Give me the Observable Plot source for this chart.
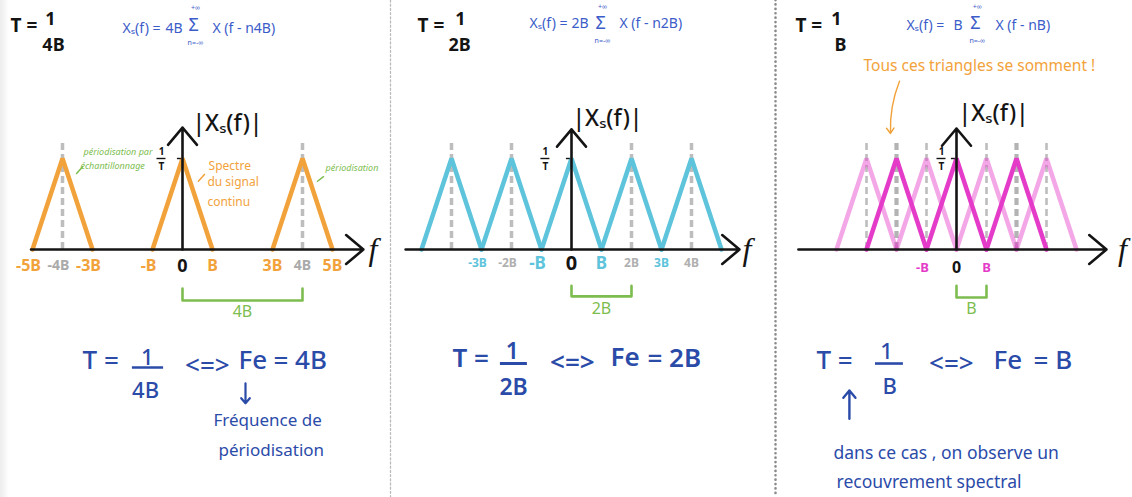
<!DOCTYPE html>
<html>
<head>
<meta charset="utf-8">
<script src="https://cdn.jsdelivr.net/npm/d3@7"></script>
<script src="https://cdn.jsdelivr.net/npm/@observablehq/plot@0.6"></script>
<style>
  body { margin: 0; background: #fff; }
  #page {
    position: relative; width: 1132px; height: 497px; overflow: hidden;
    background: linear-gradient(to right, #ececec 0, #f6f6f6 5px, #fff 9px);
  }
  #page svg { position: absolute; top: 0; }
</style>
</head>
<body>
<div id="page"></div>
<script>
// Frequencies are in units of B, amplitudes in units of 1/T.
const halfBand = 1;   // the continuous spectrum occupies [-B, B]
const peak = 1;       // its height, 1/T

// Fe = 4B
const copies4B = [-4, 0, 4];
const samplingLines4B = [-4, 4];
const ticks4B = [-5, -4, -3, -1, 0, 1, 3, 4, 5];
const tickLabels4B = ["-5B", "-4B", "-3B", "-B", "0", "B", "3B", "4B", "5B"];

// Fe = 2B
const copies2B = [-4, -2, 0, 2, 4];
const samplingLines2B = [-4, -2, 2, 4];
const ticks2B = [-3, -2, -1, 0, 1, 2, 3, 4];
const tickLabels2B = ["-3B", "-2B", "-B", "0", "B", "2B", "3B", "4B"];

// Fe = B : every copy overlaps its neighbours
const copiesB = [-2, 0, 2];
const copiesBInterleaved = [-3, -1, 1, 3];
const samplingLinesB = [-3, -2, -1, 1, 2, 3];
const samplingLinesBStrong = [-2, 2];
const ticksB = [-1, 0, 1];
const tickLabelsB = ["-B", "0", "B"];

const feValues = [4, 2, 1];
const feLabels = ["4B", "2B", "B"];

// ---- layout ----
const H = 497, BASE_PX = 249, PX_PER_B = 30, PX_PER_PEAK = 91;
const Y_DOMAIN = [-(H - BASE_PX) / PX_PER_PEAK, BASE_PX / PX_PER_PEAK];
const DASH_TOP = 1.165;

const INK = "#141414", GREY = "#bdbdbd", GREEN = "#7dbd4f";
const BLUE = "#2b4ba9", FORMULA = "#3b5cc9";
const ORANGE = "#f2a23a", CYAN = "#5ec4db", MAGENTA = "#e43cc9";
const HAND = "'Noto Sans', sans-serif";
const SCRIPT = "'Liberation Serif', serif";

const triangles = (centres) => centres.flatMap((c, k) => [
  {f: c - halfBand, a: 0, k}, {f: c, a: peak, k}, {f: c + halfBand, a: 0, k}
]);

function txt(text, x, y, o = {}) {
  return Plot.text([{text, x, y}], {
    x: "x", y: "y", text: "text",
    fill: o.fill ?? INK,
    fontSize: o.size ?? 16,
    fontWeight: o.weight ?? 400,
    fontFamily: o.font ?? HAND,
    fontStyle: o.italic ? "italic" : "normal",
    textAnchor: o.anchor ?? "middle",
    lineAnchor: "middle",
    dx: o.dx ?? 0
  });
}

function stroke(points, o = {}) {
  return Plot.line(points, {x: "f", y: "a", stroke: o.stroke ?? INK, strokeWidth: o.width ?? 1.5,
    strokeLinecap: "round", strokeLinejoin: "round"});
}

// the sum formula written at the top of each panel
function formula(o) {
  const S = {size: 14, fill: FORMULA, anchor: "start"};
  return [
    txt("Xₛ(f) =", o.start, o.y, S),
    txt(o.factor, o.factorAt, o.y, S),
    txt("Σ", o.sigma, o.sigmaY, {size: 18, fill: FORMULA}),
    txt("+∞", o.sigma + 0.06, o.upY, {size: 7, fill: FORMULA}),
    txt("n=-∞", o.sigma + 0.06, o.downY, {size: 7, fill: FORMULA}),
    txt(o.term, o.termAt, o.y, S)
  ];
}

// the sampling period written as a stacked fraction in the top-left corner
function title(o) {
  return [
    txt("T =", o.start, 2.46, {size: 19, weight: 700, anchor: "start"}),
    txt("1", o.num, 2.53, {size: 18, weight: 700}),
    txt(o.den, o.denAt, 2.25, {size: 18, weight: 700})
  ];
}

function panel(cfg) {
  const x0 = (cfg.left - cfg.zeroPx) / PX_PER_B;
  const x1 = (cfg.left + cfg.width - cfg.zeroPx) / PX_PER_B;
  const marks = [];

  if (cfg.separator) {
    marks.push(Plot.ruleX([x0], {dx: 2, stroke: cfg.separator.stroke, strokeWidth: cfg.separator.width,
      strokeDasharray: cfg.separator.dash, strokeLinecap: "round"}));
  }

  // multiples of the sampling frequency
  marks.push(Plot.ruleX(cfg.samplingLines, {y1: 0, y2: DASH_TOP, stroke: GREY,
    strokeWidth: cfg.dashWidth ?? 3.5, strokeDasharray: "7,4"}));
  if (cfg.strongLines) {
    marks.push(Plot.ruleX(cfg.strongLines, {y1: 0, y2: DASH_TOP, stroke: "#b3b3b3",
      strokeWidth: 4.2, strokeDasharray: "7,4"}));
  }

  // spectrum copies
  if (cfg.interleaved) {
    marks.push(Plot.line(triangles(cfg.interleaved), {x: "f", y: "a", z: "k", stroke: cfg.colour,
      strokeOpacity: 0.45, strokeWidth: 4.5, strokeLinejoin: "miter", strokeLinecap: "round"}));
  }
  marks.push(Plot.line(triangles(cfg.copies), {x: "f", y: "a", z: "k", stroke: cfg.colour,
    strokeWidth: 4.5, strokeLinejoin: "miter", strokeLinecap: "round"}));

  // axes
  marks.push(Plot.arrow([0], {x1: cfg.axisFrom, y1: 0, x2: cfg.axisTo, y2: 0, stroke: INK,
    strokeWidth: 2.6, headLength: 13, headAngle: 80}));
  marks.push(Plot.arrow([0], {x1: 0, y1: 0, x2: 0, y2: cfg.axisTop, stroke: INK,
    strokeWidth: 2.6, headLength: 13, headAngle: 80}));
  marks.push(txt("f", cfg.fLabelX, 0.0, {size: 32, font: SCRIPT, italic: true}));
  marks.push(txt("|Xₛ(f)|", cfg.magLabelX, cfg.magLabelY, {size: 23, weight: 500, anchor: "start"}));

  // 1/T marker on the vertical axis
  const m = cfg.oneOverT;
  marks.push(txt("1", m, 1.07, {size: 10, weight: 700}));
  marks.push(Plot.ruleY([1.0], {x1: m - 0.15, x2: m + 0.15, stroke: INK, strokeWidth: 1.4}));
  marks.push(txt("T", m, 0.91, {size: 10, weight: 700}));
  marks.push(Plot.ruleY([1.0], {x1: -0.17, x2: -0.04, stroke: INK, strokeWidth: 1.4}));

  // tick labels
  cfg.ticks.forEach((v, i) => {
    const s = cfg.tickStyle(v);
    marks.push(txt(cfg.tickLabels[i], v, cfg.tickY, {fill: s.fill, size: s.size, weight: 700,
      dx: v < 0 ? -4 : 0}));
  });

  // bracket showing the sampling frequency
  const fe = cfg.fe;
  marks.push(Plot.line([
    {f: 0, a: cfg.bracket[0]}, {f: 0, a: cfg.bracket[1]},
    {f: fe, a: cfg.bracket[1]}, {f: fe, a: cfg.bracket[0]}
  ], {x: "f", y: "a", stroke: GREEN, strokeWidth: 2.6, strokeLinejoin: "round", strokeLinecap: "round"}));
  marks.push(txt(cfg.feLabel, fe / 2, cfg.bracket[2], {fill: GREEN, size: 16}));

  marks.push(...cfg.extra);

  const svg = Plot.plot({
    width: cfg.width, height: H, margin: 0,
    style: {background: "transparent", overflow: "visible"},
    x: {domain: [x0, x1], range: [0, cfg.width], axis: null},
    y: {domain: Y_DOMAIN, range: [H, 0], axis: null},
    marks
  });
  svg.style.left = cfg.left + "px";
  return svg;
}

const EQ = {size: 26, fill: BLUE, weight: 500};
const FRAC = {size: 22, fill: BLUE, weight: 500};

const page = document.getElementById("page");

// ---------- Fe = 4B ----------
page.append(panel({
  left: 0, width: 388, zeroPx: 182,
  colour: ORANGE, copies: copies4B, samplingLines: samplingLines4B,
  axisFrom: -5.05, axisTo: 6.03, axisTop: 1.34, fLabelX: 6.35,
  magLabelX: 0.33, magLabelY: 1.385, oneOverT: -0.7,
  ticks: ticks4B, tickLabels: tickLabels4B, tickY: -0.18,
  tickStyle: v => v === 0 ? {fill: INK, size: 18}
    : samplingLines4B.includes(v) ? {fill: "#aaaaaa", size: 14} : {fill: ORANGE, size: 16},
  fe: feValues[0], feLabel: feLabels[0], bracket: [-0.43, -0.56, -0.69],
  extra: [
    ...title({start: -5.73, num: -4.4, den: "4B", denAt: -4.3}),
    ...formula({start: -2.0, y: 2.43, factor: "4B", factorAt: -0.57, sigma: 0.37, sigmaY: 2.46,
      upY: 2.66, downY: 2.275, term: "X (f - n4B)", termAt: 1.0}),

    txt("périodisation par", -3.3, 1.07, {size: 9, fill: GREEN, italic: true, anchor: "start"}),
    txt("échantillonnage", -3.4, 0.92, {size: 9, fill: GREEN, italic: true, anchor: "start"}),
    stroke([{f: -3.53, a: 0.835}, {f: -3.33, a: 0.91}], {stroke: GREEN}),
    txt("périodisation", 4.77, 0.89, {size: 9, fill: GREEN, italic: true, anchor: "start"}),
    stroke([{f: 4.5, a: 0.75}, {f: 4.7, a: 0.80}], {stroke: GREEN}),

    txt("Spectre", 0.87, 0.92, {size: 12, fill: ORANGE, anchor: "start"}),
    txt("du signal", 0.83, 0.735, {size: 12, fill: ORANGE, anchor: "start"}),
    txt("continu", 0.83, 0.515, {size: 12, fill: ORANGE, anchor: "start"}),
    stroke([{f: 0.53, a: 0.75}, {f: 0.73, a: 0.825}], {stroke: ORANGE}),

    txt("T =", -3.33, -1.22, {...EQ, anchor: "start"}),
    txt("1", -1.17, -1.19, FRAC),
    Plot.ruleY([-1.297], {x1: -1.67, x2: -0.63, stroke: BLUE, strokeWidth: 2.6}),
    txt("4B", -1.23, -1.55, FRAC),
    txt("<=>", 0.83, -1.28, EQ),
    txt("Fe", 1.87, -1.22, {...EQ, anchor: "start"}),
    txt("= 4B", 3.03, -1.22, {...EQ, anchor: "start"}),
    Plot.arrow([0], {x1: 2.1, y1: -1.47, x2: 2.1, y2: -1.69, stroke: BLUE, strokeWidth: 2.2,
      headLength: 8, headAngle: 80}),
    txt("Fréquence de", 1.03, -1.88, {size: 17, fill: BLUE, anchor: "start"}),
    txt("périodisation", 1.2, -2.21, {size: 17, fill: BLUE, anchor: "start"})
  ]
}));

// ---------- Fe = 2B ----------
page.append(panel({
  left: 388, width: 385, zeroPx: 571,
  separator: {stroke: "#bbbbbb", width: 1.3, dash: "2,2.2"},
  colour: CYAN, copies: copies2B, samplingLines: samplingLines2B,
  axisFrom: -5.53, axisTo: 5.6, axisTop: 1.32, fLabelX: 5.85,
  magLabelX: 0.03, magLabelY: 1.44, oneOverT: -0.87,
  ticks: ticks2B, tickLabels: tickLabels2B, tickY: -0.155,
  tickStyle: v => v === 0 ? {fill: INK, size: 20}
    : samplingLines2B.includes(v) ? {fill: "#b0b0b0", size: 12}
    : Math.abs(v) === 1 ? {fill: CYAN, size: 17} : {fill: CYAN, size: 12},
  fe: feValues[1], feLabel: feLabels[1], bracket: [-0.40, -0.515, -0.65],
  extra: [
    ...title({start: -5.13, num: -3.7, den: "2B", denAt: -3.73}),
    ...formula({start: -1.4, y: 2.48, factor: "2B", factorAt: 0.0, sigma: 0.97, sigmaY: 2.484,
      upY: 2.67, downY: 2.297, term: "X (f - n2B)", termAt: 1.6}),

    txt("T =", -3.97, -1.2, {...EQ, weight: 600, anchor: "start"}),
    txt("1", -1.97, -1.12, {...FRAC, size: 23, weight: 600}),
    Plot.ruleY([-1.253], {x1: -2.37, x2: -1.47, stroke: BLUE, strokeWidth: 3}),
    txt("2B", -1.93, -1.52, {...FRAC, size: 23, weight: 600}),
    txt("<=>", 0.03, -1.24, {...EQ, weight: 600}),
    txt("Fe", 1.3, -1.19, {...EQ, weight: 600, anchor: "start"}),
    txt("= 2B", 2.53, -1.2, {...EQ, weight: 600, anchor: "start"})
  ]
}));

// ---------- Fe = B (spectral overlap) ----------
page.append(panel({
  left: 773, width: 359, zeroPx: 956,
  separator: {stroke: "#8a8a8a", width: 2.6, dash: "0.1,4.3"},
  colour: MAGENTA, copies: copiesB, interleaved: copiesBInterleaved,
  samplingLines: samplingLinesB, strongLines: samplingLinesBStrong, dashWidth: 2.6,
  axisFrom: -5.27, axisTo: 5.0, axisTop: 1.33, fLabelX: 5.53,
  magLabelX: 0.07, magLabelY: 1.495, oneOverT: -0.5,
  ticks: ticksB, tickLabels: tickLabelsB, tickY: -0.2,
  tickStyle: v => v === 0 ? {fill: INK, size: 16} : {fill: MAGENTA, size: 13},
  fe: feValues[2], feLabel: feLabels[2], bracket: [-0.40, -0.527, -0.65],
  extra: [
    ...title({start: -5.37, num: -4.0, den: "B", denAt: -3.87}),
    ...formula({start: -1.67, y: 2.46, factor: "B", factorAt: -0.1, sigma: 0.63, sigmaY: 2.484,
      upY: 2.67, downY: 2.297, term: "X (f - nB)", termAt: 1.3}),

    txt("Tous ces triangles se somment !", -3.1, 2.02, {size: 15.5, fill: ORANGE, anchor: "start"}),
    Plot.arrow([0], {x1: -1.9, y1: 1.85, x2: -2.2, y2: 1.275, bend: -12, stroke: ORANGE,
      strokeWidth: 1.4, headLength: 7, headAngle: 70}),

    txt("T =", -4.67, -1.22, {...EQ, anchor: "start"}),
    txt("1", -2.33, -1.13, FRAC),
    Plot.ruleY([-1.253], {x1: -2.7, x2: -1.77, stroke: BLUE, strokeWidth: 2.6}),
    txt("B", -2.23, -1.51, FRAC),
    txt("<=>", -0.17, -1.253, EQ),
    txt("Fe", 1.23, -1.22, {...EQ, anchor: "start"}),
    txt("= B", 2.57, -1.22, {...EQ, anchor: "start"}),
    Plot.arrow([0], {x1: -3.57, y1: -1.86, x2: -3.57, y2: -1.55, stroke: BLUE, strokeWidth: 2.4,
      headLength: 9, headAngle: 80}),
    txt("dans ce cas , on observe un", -4.1, -2.24, {size: 17.5, fill: BLUE, anchor: "start"}),
    txt("recouvrement spectral", -4.0, -2.56, {size: 17.5, fill: BLUE, anchor: "start"})
  ]
}));
</script>
</body>
</html>
